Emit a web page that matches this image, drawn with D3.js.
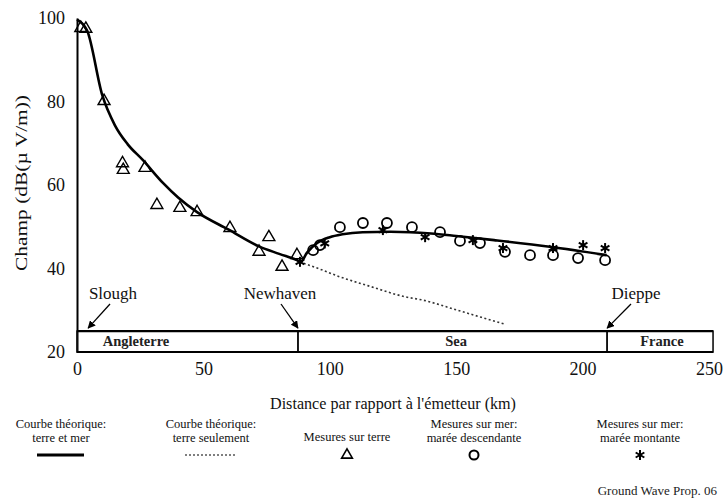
<!DOCTYPE html>
<html><head><meta charset="utf-8">
<script src="https://cdn.jsdelivr.net/npm/d3@7"></script>
<style>body{margin:0;background:#fff}svg text{font-family:"Liberation Serif","Times New Roman",Times,serif !important}</style>
</head><body><svg id="c" width="725" height="501"></svg>
<script>
// Theoretical curve, land + sea (km, dB)
const theoryLandSea = [[0,99.6],[4,97],[10,81.5],[15,74.3],[20,69.8],[26,66],[34,60.5],[40,57],[47.5,53.5],[60,49.3],[72,45.3],[80,43.5],[87,42],[88.5,41.6],[91,43.8],[95,46.1],[100,47.5],[105,48.2],[113,48.7],[124,48.8],[140,48.4],[150,47.8],[165,46.8],[187,45.2],[209.5,43.2]];
// Theoretical curve, land only (beyond Newhaven)
const theoryLandOnly = [[88,41.6],[95,40.1],[104,38],[115,35.9],[130,33.2],[137,32.4],[150,30.1],[160,28.3],[169,26.7]];
// Measurements over land (triangles)
const landMeas = [[1.5,97.6],[3.5,97.4],[10.7,80.1],[18,65.2],[18.3,63.6],[26.9,64.1],[31.6,55.2],[40.7,54.5],[47.5,53.5],[60.5,49.7],[75.9,47.5],[72,44],[81.1,40.4],[87,43.2]];
// Measurements over sea, falling tide (circles)
const seaFalling = [[93.4,44.4],[96.1,45.6],[104,49.9],[113.1,50.9],[122.6,50.9],[132.5,49.9],[143.6,48.7],[151.5,46.6],[159.4,46.1],[169.3,44],[179.2,43.2],[188.3,43.2],[198.2,42.5],[208.9,42]];
// Measurements over sea, rising tide (asterisks)
const seaRising = [[88.2,41.6],[98,46],[121,49.2],[137.7,47.5],[156.6,46.8],[168.5,44.9],[188.3,44.9],[200.2,45.6],[208.9,44.9]];
// Regions band (km)
const regions = [{name:"Angleterre",from:0,to:87.4},{name:"Sea",from:87.4,to:209.7},{name:"France",from:209.7,to:251.6}];
const places = [{name:"Slough",km:4.4,lx:113},{name:"Newhaven",km:87.4,lx:280},{name:"Dieppe",km:209.7,lx:636}];
const xTicks = [0,50,100,150,200,250];
const yTicks = [20,40,60,80,100];
const bandTop = 25;

const svg = d3.select("#c");
const x = d3.scaleLinear().domain([0,250]).range([77,709]);
const y = d3.scaleLinear().domain([20,100]).range([352,18]);

// y axis
const yAxis = d3.axisLeft(y).tickValues(yTicks).tickSize(0).tickPadding(12);
const gy = svg.append("g").attr("transform",`translate(${x(0)},0)`).call(yAxis);
gy.select(".domain").attr("stroke","#000").attr("stroke-width",2);
gy.selectAll("text").attr("font-size",18).attr("fill","#111");
// x axis (labels only)
const xAxis = d3.axisBottom(x).tickValues(xTicks).tickSize(0).tickPadding(10);
const gx = svg.append("g").attr("transform",`translate(0,${y(20)})`).call(xAxis);
gx.select(".domain").remove();
gx.selectAll("text").attr("font-size",18).attr("fill","#111");

// region band
const band = svg.append("g");
band.selectAll("rect").data(regions).join("rect")
  .attr("x",d=>x(d.from)).attr("width",d=>x(d.to)-x(d.from))
  .attr("y",y(bandTop)).attr("height",y(20)-y(bandTop))
  .attr("fill","none").attr("stroke","#111").attr("stroke-width",1.6);
band.append("line").attr("x1",x(0)).attr("x2",x(251.6)).attr("y1",y(bandTop)).attr("y2",y(bandTop)).attr("stroke","#000").attr("stroke-width",2.2);
band.append("line").attr("x1",x(0)).attr("x2",x(251.6)).attr("y1",y(20)).attr("y2",y(20)).attr("stroke","#000").attr("stroke-width",2.2);
band.selectAll("text").data(regions).join("text")
  .attr("x",d=>d.name==="Angleterre"?136:(d.name==="Sea"?456:662))
  .attr("y",346).attr("text-anchor","middle").attr("font-weight","bold").attr("font-size",14.5)
  .attr("fill","#222").text(d=>d.name);

// place labels & arrows
svg.append("defs").append("marker").attr("id","ah").attr("viewBox","0 0 10 10").attr("refX",9).attr("refY",5)
  .attr("markerWidth",6).attr("markerHeight",6).attr("orient","auto")
  .append("path").attr("d","M0,0L10,5L0,10z").attr("fill","#000");
const pl = svg.append("g");
pl.selectAll("text").data(places).join("text").attr("x",d=>d.lx).attr("y",299)
  .attr("text-anchor","middle").attr("font-size",17).attr("fill","#111").text(d=>d.name);
pl.selectAll("line").data(places).join("line")
  .attr("x1",d=>d.name==="Slough"?110:(d.name==="Newhaven"?281:631)).attr("y1",304)
  .attr("x2",d=>x(d.km)).attr("y2",y(bandTop)-3)
  .attr("stroke","#000").attr("stroke-width",1.3).attr("marker-end","url(#ah)");

// curves
const line = d3.line().x(d=>x(d[0])).y(d=>y(d[1])).curve(d3.curveMonotoneX);
svg.append("path").datum(theoryLandOnly).attr("d",line).attr("fill","none")
  .attr("stroke","#333").attr("stroke-width",1.6).attr("stroke-dasharray","2,2.5");
svg.append("path").datum(theoryLandSea).attr("d",line).attr("fill","none")
  .attr("stroke","#000").attr("stroke-width",2.6);

// markers
const tri = d3.symbol().type(d3.symbolTriangle).size(62);
svg.append("g").selectAll("path").data(landMeas).join("path")
  .attr("transform",d=>`translate(${x(d[0])},${y(d[1])})`).attr("d",tri)
  .attr("fill","none").attr("stroke","#000").attr("stroke-width",1.4);
svg.append("g").selectAll("circle").data(seaFalling).join("circle")
  .attr("cx",d=>x(d[0])).attr("cy",d=>y(d[1])).attr("r",5)
  .attr("fill","none").attr("stroke","#000").attr("stroke-width",1.8);
function star(g,cx,cy,r){
  for(let a=0;a<3;a++){
    const t=Math.PI/2+a*Math.PI/3;
    g.append("line").attr("x1",cx-r*Math.cos(t)).attr("y1",cy-r*Math.sin(t))
      .attr("x2",cx+r*Math.cos(t)).attr("y2",cy+r*Math.sin(t)).attr("stroke","#000").attr("stroke-width",2);
  }
}
const sg = svg.append("g");
seaRising.forEach(d=>star(sg,x(d[0]),y(d[1]),5));

// axis titles
svg.append("text").attr("x",393).attr("y",409).attr("text-anchor","middle").attr("font-size",17)
  .attr("textLength",246).attr("lengthAdjust","spacingAndGlyphs").attr("fill","#111")
  .text("Distance par rapport à l'émetteur (km)");
svg.append("text").attr("transform","translate(27,183) rotate(-90)").attr("text-anchor","middle")
  .attr("font-size",17).attr("textLength",176).attr("lengthAdjust","spacingAndGlyphs").attr("fill","#111")
  .text("Champ (dB(µ V/m))");

// legend
const legendItems = [
  {l1:"Courbe théorique:",l2:"terre et mer",cx:61,kind:"solid"},
  {l1:"Courbe théorique:",l2:"terre seulement",cx:211,kind:"dotted"},
  {l1:null,l2:"Mesures sur terre",cx:347,kind:"tri"},
  {l1:"Mesures sur mer:",l2:"marée descendante",cx:474,kind:"circle"},
  {l1:"Mesures sur mer:",l2:"marée montante",cx:640,kind:"star"}
];
const lg = svg.append("g").attr("font-size",12.5).attr("fill","#111");
legendItems.forEach(it=>{
  if(it.l1) lg.append("text").attr("x",it.cx).attr("y",428).attr("text-anchor","middle").attr("fill","#111").text(it.l1);
  lg.append("text").attr("x",it.cx).attr("y",it.l1?442:441).attr("text-anchor","middle").attr("fill","#111").text(it.l2);
  const sy = 455;
  if(it.kind==="solid") lg.append("line").attr("x1",it.cx-24).attr("x2",it.cx+23).attr("y1",sy).attr("y2",sy).attr("stroke","#000").attr("stroke-width",3);
  if(it.kind==="dotted") lg.append("line").attr("x1",it.cx-26).attr("x2",it.cx+24).attr("y1",sy).attr("y2",sy).attr("stroke","#555").attr("stroke-width",1.6).attr("stroke-dasharray","2,2");
  if(it.kind==="tri") lg.append("path").attr("transform",`translate(${it.cx},${sy})`).attr("d",d3.symbol().type(d3.symbolTriangle).size(50)).attr("fill","none").attr("stroke","#000").attr("stroke-width",1.6);
  if(it.kind==="circle") lg.append("circle").attr("cx",it.cx).attr("cy",sy).attr("r",4.5).attr("fill","none").attr("stroke","#000").attr("stroke-width",2);
  if(it.kind==="star") star(lg,it.cx,sy,5);
});
svg.append("text").attr("x",717).attr("y",495).attr("text-anchor","end").attr("font-size",13)
  .attr("fill","#222").text("Ground Wave Prop. 06");
</script></body></html>
